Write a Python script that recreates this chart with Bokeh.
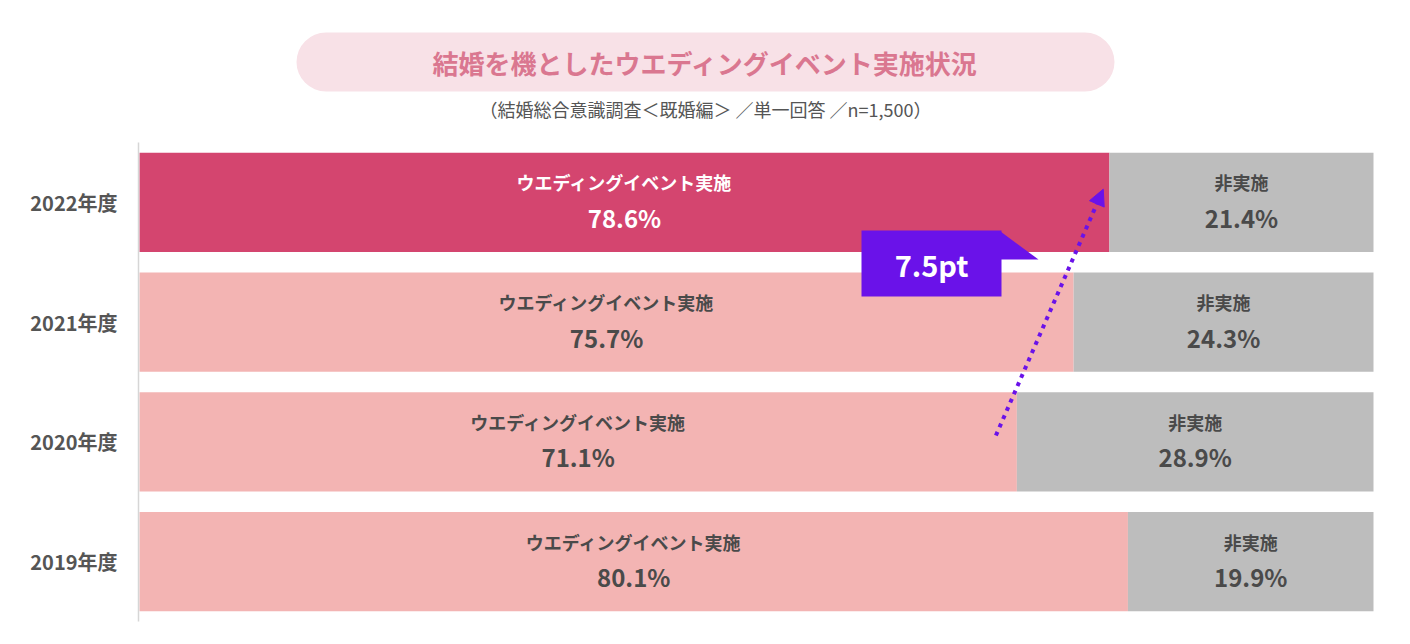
from bokeh.plotting import figure
from bokeh.models import Range1d, Arrow, NormalHead, ColumnDataSource
from bokeh.core.properties import value
from bokeh.embed import file_html
from bokeh.resources import INLINE

# ---- data ----
years = ["2022年度", "2021年度", "2020年度", "2019年度"]
implemented = [78.6, 75.7, 71.1, 80.1]
not_implemented = [21.4, 24.3, 28.9, 19.9]
impl_label = "ウエディングイベント実施"
not_label = "非実施"
title_text = "結婚を機としたウエディングイベント実施状況"
subtitle_text = "（結婚総合意識調査＜既婚編＞ ／単一回答 ／n=1,500）"
highlight = 0          # latest year highlighted
compare_from = 2       # 2020 -> 2022 arrow

# ---- style ----
FONT = value("Noto Sans CJK JP")
HL = "#d4456f"
LIGHT = "#f3b4b3"
GRAY = "#bdbdbd"
PURPLE = "#6a12e9"
TXT = "#4a4a4a"

W, H = 1394, 628
LEFT, TOP, SX, SY = 139, 142, 12.34, 119.75   # frame geometry (px)


def dx(px):  # page px -> x data
    return (px - LEFT) / SX


def dy(py):  # page px -> y data
    return 4 - (py - TOP) / SY


p = figure(width=W, height=H, output_backend="svg", toolbar_location=None,
           x_range=Range1d(dx(0), dx(W)), y_range=Range1d(dy(H), dy(0)),
           x_axis_location=None, y_axis_location=None, min_border=0)
p.grid.visible = False
p.outline_line_color = None
p.background_fill_color = "white"

n = len(years)
centers = [n - 0.5 - i for i in range(n)]
impl_colors = [HL if i == highlight else LIGHT for i in range(n)]
impl_txt = ["white" if i == highlight else TXT for i in range(n)]
impl_mid = [v / 2 for v in implemented]
not_mid = [v + w / 2 for v, w in zip(implemented, not_implemented)]
totals = [v + w for v, w in zip(implemented, not_implemented)]

src = ColumnDataSource(dict(
    y=centers, impl=implemented, tot=totals, col=impl_colors, txtc=impl_txt,
    imid=impl_mid, nmid=not_mid, year=years,
    ipct=[f"{v:.1f}%" for v in implemented],
    npct=[f"{v:.1f}%" for v in not_implemented],
    ilab=[impl_label] * n, nlab=[not_label] * n,
    ylab=[c + 0.168 for c in centers], ypct=[c - 0.125 for c in centers],
))

BH = 0.83
p.hbar(y="y", left=0, right="impl", height=BH, fill_color="col", line_color=None, source=src)
p.hbar(y="y", left="impl", right="tot", height=BH, fill_color=GRAY, line_color=None, source=src)

# axis line
p.segment(x0=dx(138), y0=0, x1=dx(138), y1=n, line_color="#d6d6d6", line_width=1.5)

# category labels
p.text(x=dx(117), y="y", text="year", source=src, text_align="right", text_baseline="middle",
       text_font=FONT, text_font_style="bold", text_font_size="20px", text_color="#555555")

# in-bar labels
p.text(x="imid", y="ylab", text="ilab", source=src, text_align="center", text_baseline="middle",
       text_font=FONT, text_font_style="bold", text_font_size="18px", text_color="txtc")
p.text(x="imid", y="ypct", text="ipct", source=src, text_align="center", text_baseline="middle",
       text_font=FONT, text_font_style="bold", text_font_size="24px", text_color="txtc")
p.text(x="nmid", y="ylab", text="nlab", source=src, text_align="center", text_baseline="middle",
       text_font=FONT, text_font_style="bold", text_font_size="18px", text_color=TXT)
p.text(x="nmid", y="ypct", text="npct", source=src, text_align="center", text_baseline="middle",
       text_font=FONT, text_font_style="bold", text_font_size="24px", text_color=TXT)

# title pill
p.quad(left=dx(296), right=dx(1114), top=dy(32), bottom=dy(91), fill_color="#f8e1e7",
       line_color=None, border_radius=30)
p.text(x=[dx(705)], y=[dy(62)], text=[title_text], text_align="center", text_baseline="middle",
       text_font=FONT, text_font_style="bold", text_font_size="26px", text_color="#da7790")
p.text(x=[dx(705)], y=[dy(108)], text=[subtitle_text], text_align="center", text_baseline="middle",
       text_font=FONT, text_font_size="18px", text_color="#555555")

# change arrow (2020 -> 2022)
ys_, ye_ = centers[compare_from], centers[highlight]
p.add_layout(Arrow(end=NormalHead(size=16, fill_color=PURPLE, line_color=PURPLE, line_width=1),
                   x_start=implemented[compare_from] - 1.7, y_start=ys_ + 0.053,
                   x_end=implemented[highlight] - 0.5, y_end=ye_ + 0.11,
                   line_color=PURPLE, line_width=4, line_dash="4 5"))

# callout box
diff = implemented[highlight] - implemented[compare_from]
p.quad(left=dx(861), right=dx(1001), top=dy(230), bottom=dy(296), fill_color=PURPLE, line_color=None)
p.patch(x=[dx(1000), dx(1038), dx(1000)], y=[dy(231), dy(259), dy(259)], fill_color=PURPLE, line_color=None)
p.text(x=[dx(931)], y=[dy(263)], text=[f"{diff:.1f}pt"], text_align="center", text_baseline="middle",
       text_font=FONT, text_font_style="bold", text_font_size="29px", text_color="white")

open("out.html", "w").write(file_html(p, INLINE))
